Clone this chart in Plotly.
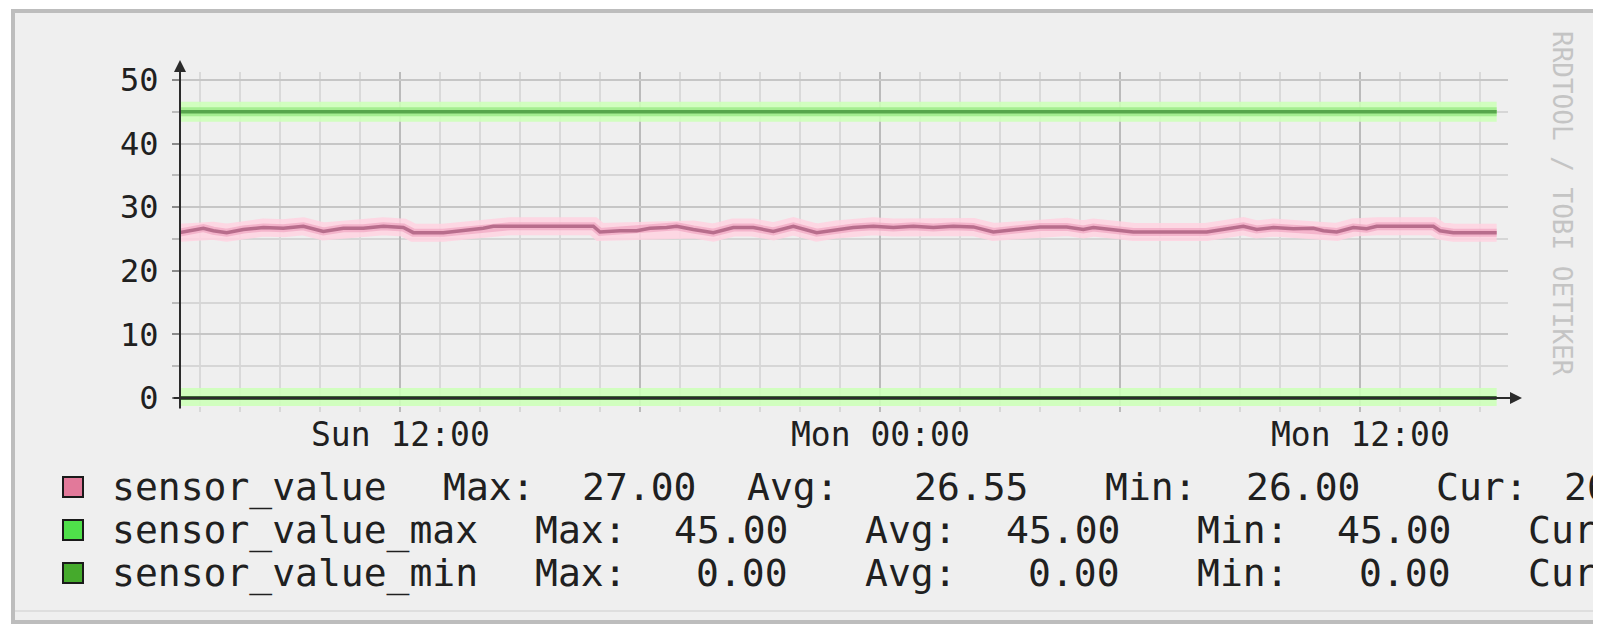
import plotly.graph_objects as go

# ---------------- data ----------------
time_points = [
    "2013-01-06 06:30", "2013-01-06 07:05", "2013-01-06 07:20", "2013-01-06 07:40",
    "2013-01-06 08:05", "2013-01-06 08:35", "2013-01-06 09:05", "2013-01-06 09:35",
    "2013-01-06 10:05", "2013-01-06 10:35", "2013-01-06 11:05", "2013-01-06 11:35",
    "2013-01-06 12:05", "2013-01-06 12:20", "2013-01-06 13:05", "2013-01-06 13:35",
    "2013-01-06 14:05", "2013-01-06 14:20", "2013-01-06 14:45", "2013-01-06 15:45",
    "2013-01-06 16:50", "2013-01-06 17:00", "2013-01-06 17:30", "2013-01-06 17:55",
    "2013-01-06 18:15", "2013-01-06 18:40", "2013-01-06 18:55", "2013-01-06 19:20",
    "2013-01-06 19:50", "2013-01-06 20:20", "2013-01-06 20:50", "2013-01-06 21:20",
    "2013-01-06 21:50", "2013-01-06 22:25", "2013-01-06 22:55", "2013-01-06 23:20",
    "2013-01-06 23:50", "2013-01-07 00:20", "2013-01-07 00:50", "2013-01-07 01:20",
    "2013-01-07 01:50", "2013-01-07 02:20", "2013-01-07 02:50", "2013-01-07 03:35",
    "2013-01-07 04:00", "2013-01-07 04:40", "2013-01-07 05:05", "2013-01-07 05:20",
    "2013-01-07 06:05", "2013-01-07 06:20", "2013-01-07 07:15", "2013-01-07 08:10",
    "2013-01-07 09:05", "2013-01-07 09:25", "2013-01-07 09:50", "2013-01-07 10:20",
    "2013-01-07 10:50", "2013-01-07 11:05", "2013-01-07 11:25", "2013-01-07 11:50",
    "2013-01-07 12:10", "2013-01-07 12:25", "2013-01-07 13:50", "2013-01-07 14:00",
    "2013-01-07 14:20", "2013-01-07 15:25",
]
sensor_value = [
    26.0, 26.7, 26.3, 26.0, 26.5, 26.8, 26.7, 27.0,
    26.2, 26.7, 26.7, 27.0, 26.8, 26.0, 26.0, 26.3,
    26.7, 27.0, 27.0, 27.0, 27.0, 26.1, 26.3, 26.3,
    26.7, 26.8, 27.0, 26.5, 26.0, 26.8, 26.8, 26.2,
    27.0, 26.0, 26.5, 26.8, 27.0, 26.8, 27.0, 26.8,
    27.0, 26.9, 26.1, 26.7, 26.9, 26.9, 26.5, 26.8,
    26.3, 26.1, 26.1, 26.1, 27.0, 26.5, 26.8, 26.6,
    26.7, 26.3, 26.1, 26.8, 26.6, 27.0, 27.0, 26.3,
    26.0, 26.0,
]
limit_times = ["2013-01-06 06:30", "2013-01-07 15:25"]
sensor_value_max = [45.0, 45.0]
sensor_value_min = [0.0, 0.0]

x_range = ["2013-01-06 06:30", "2013-01-07 15:42"]
y_range = [-1.26, 51.26]

x_grid_vals = ["2013-01-06 12:00", "2013-01-06 18:00", "2013-01-07 00:00",
               "2013-01-07 06:00", "2013-01-07 12:00"]
x_label_vals = ["2013-01-06 12:00", "2013-01-07 00:00", "2013-01-07 12:00"]
x_label_text = ["Sun 12:00", "Mon 00:00", "Mon 12:00"]

legend_names = ["sensor_value", "sensor_value_max", "sensor_value_min"]
legend_max = [27.00, 45.00, 0.00]
legend_avg = [26.55, 45.00, 0.00]
legend_min = [26.00, 45.00, 0.00]
legend_cur = [26.00, 45.00, 0.00]
legend_colors = ["#e2799a", "#4fe04a", "#45aa2c"]

watermark = "RRDTOOL / TOBI OETIKER"

# ---------------- layout helpers ----------------
# (the page body adds an 8px offset; positions below are in reference pixels)
W, H = 1601, 625
OFF = 8
L_ref, T_ref, BOT_ref, R_ref = 180, 72, 406, 1508
L, T = L_ref - OFF, T_ref - OFF
B = H - (BOT_ref - OFF)
R = W - (R_ref - OFF)
PW, PH = W - L - R, H - T - B


def px(xr):
    return (xr - L_ref) / PW


def py(yr):
    return (BOT_ref - yr) / PH


MONO = "DejaVu Sans Mono"

fig = go.Figure()

# max line (glow + core)
fig.add_trace(go.Scatter(x=limit_times, y=sensor_value_max, mode="lines",
                         line=dict(color="rgba(205,255,185,0.9)", width=20),
                         hoverinfo="skip", showlegend=False))
fig.add_trace(go.Scatter(x=limit_times, y=sensor_value_max, mode="lines",
                         line=dict(color="rgba(160,235,140,0.9)", width=9),
                         hoverinfo="skip", showlegend=False))
fig.add_trace(go.Scatter(x=limit_times, y=sensor_value_max, mode="lines",
                         line=dict(color="#57a64c", width=3.5),
                         name=legend_names[1], showlegend=False))

# min line
fig.add_trace(go.Scatter(x=limit_times, y=sensor_value_min, mode="lines",
                         line=dict(color="rgba(205,255,185,0.9)", width=20),
                         hoverinfo="skip", showlegend=False))
fig.add_trace(go.Scatter(x=limit_times, y=sensor_value_min, mode="lines",
                         line=dict(color="#3d6a36", width=4),
                         name=legend_names[2], showlegend=False))

# sensor value (glow + core)
fig.add_trace(go.Scatter(x=time_points, y=sensor_value, mode="lines",
                         line=dict(color="rgba(255,210,225,0.85)", width=18),
                         hoverinfo="skip", showlegend=False))
fig.add_trace(go.Scatter(x=time_points, y=sensor_value, mode="lines",
                         line=dict(color="rgba(240,165,192,0.7)", width=8),
                         hoverinfo="skip", showlegend=False))
fig.add_trace(go.Scatter(x=time_points, y=sensor_value, mode="lines",
                         line=dict(color="#b86d8c", width=3.5),
                         name=legend_names[0], showlegend=False))

shapes = []
# canvas frame
shapes.append(dict(type="rect", xref="paper", yref="paper", layer="below",
                   x0=px(13), x1=px(1598), y0=py(11), y1=py(622),
                   fillcolor="#efefef", line=dict(color="#bdbdbd", width=4)))
shapes.append(dict(type="line", xref="paper", yref="paper", layer="below",
                   x0=px(15), x1=px(1594), y0=py(611), y1=py(611),
                   line=dict(color="#dedede", width=2)))

# legend swatches
row_y = [487, 530, 573]
for i, c in enumerate(legend_colors):
    shapes.append(dict(type="rect", xref="paper", yref="paper",
                       x0=px(63), x1=px(83), y0=py(row_y[i] - 10), y1=py(row_y[i] + 10),
                       fillcolor=c, line=dict(color="#1a1a1a", width=2)))

annotations = []
# axis arrows
annotations.append(dict(xref="paper", yref="paper", x=px(180), y=py(60),
                        ax=0, ay=410 - 60, text="", showarrow=True,
                        arrowhead=2, arrowsize=1.2, arrowwidth=2, arrowcolor="#2b2b2b"))
annotations.append(dict(xref="paper", yref="y", x=px(1522), y=0,
                        ax=-(1522 - 172), ay=0, text="", showarrow=True,
                        arrowhead=2, arrowsize=1.2, arrowwidth=2, arrowcolor="#2b2b2b"))

# x axis labels
for xv, xt in zip(x_label_vals, x_label_text):
    annotations.append(dict(xref="x", yref="paper", x=xv, y=py(434),
                            xanchor="center", yanchor="middle", text=xt, showarrow=False,
                            font=dict(family=MONO, size=33, color="#202020")))

# legend text
col_x = [
    [110, 441, 580, 745, 912, 1103, 1244, 1434, 1562],
    [110, 533, 672, 863, 1004, 1195, 1335, 1526, 1666],
    [110, 533, 694, 863, 1026, 1195, 1357, 1526, 1666],
]
for i, name in enumerate(legend_names):
    tokens = [name, "Max:", "%.2f" % legend_max[i], "Avg:", "%.2f" % legend_avg[i],
              "Min:", "%.2f" % legend_min[i], "Cur:", "%.2f" % legend_cur[i]]
    for tok, xpos in zip(tokens, col_x[i]):
        annotations.append(dict(xref="paper", yref="paper", x=px(xpos), y=py(row_y[i]),
                                xanchor="left", yanchor="middle", text=tok, showarrow=False,
                                font=dict(family=MONO, size=38, color="#202020")))

# watermark
annotations.append(dict(xref="paper", yref="paper", x=px(1562), y=py(203),
                        text=watermark, textangle=90, showarrow=False,
                        xanchor="center", yanchor="middle",
                        font=dict(family=MONO, size=26, color="#c4c4c4")))

fig.update_layout(
    width=W, height=H,
    margin=dict(l=L, r=R, t=T, b=B, pad=0),
    paper_bgcolor="#ffffff",
    plot_bgcolor="#ffffff",
    showlegend=False,
    shapes=shapes,
    annotations=annotations,
    xaxis=dict(
        type="date", range=x_range,
        tickmode="array", tickvals=x_grid_vals, showticklabels=False,
        showgrid=True, gridcolor="#bbbbbb", gridwidth=2,
        ticks="outside", ticklen=5, tickcolor="#bbbbbb", tickwidth=2,
        minor=dict(dtick=3600000, tick0="2013-01-06 00:00", showgrid=True,
                   gridcolor="#d9d9d9", gridwidth=2, ticks="outside", ticklen=5,
                   tickcolor="#d9d9d9"),
        showline=False, zeroline=False, fixedrange=True,
    ),
    yaxis=dict(
        range=y_range, tickmode="linear", tick0=0, dtick=10,
        showgrid=True, gridcolor="#c6c6c6", gridwidth=2,
        ticks="outside", ticklen=7, tickcolor="#8a8a8a", tickwidth=2,
        tickfont=dict(family=MONO, size=32, color="#202020"),
        ticklabelstandoff=7,
        minor=dict(dtick=5, tick0=0, showgrid=True, gridcolor="#d6d6d6", gridwidth=2,
                   ticks="outside", ticklen=7, tickcolor="#bbbbbb"),
        showline=False, zeroline=False, fixedrange=True,
    ),
)

fig.write_html("out.html")
